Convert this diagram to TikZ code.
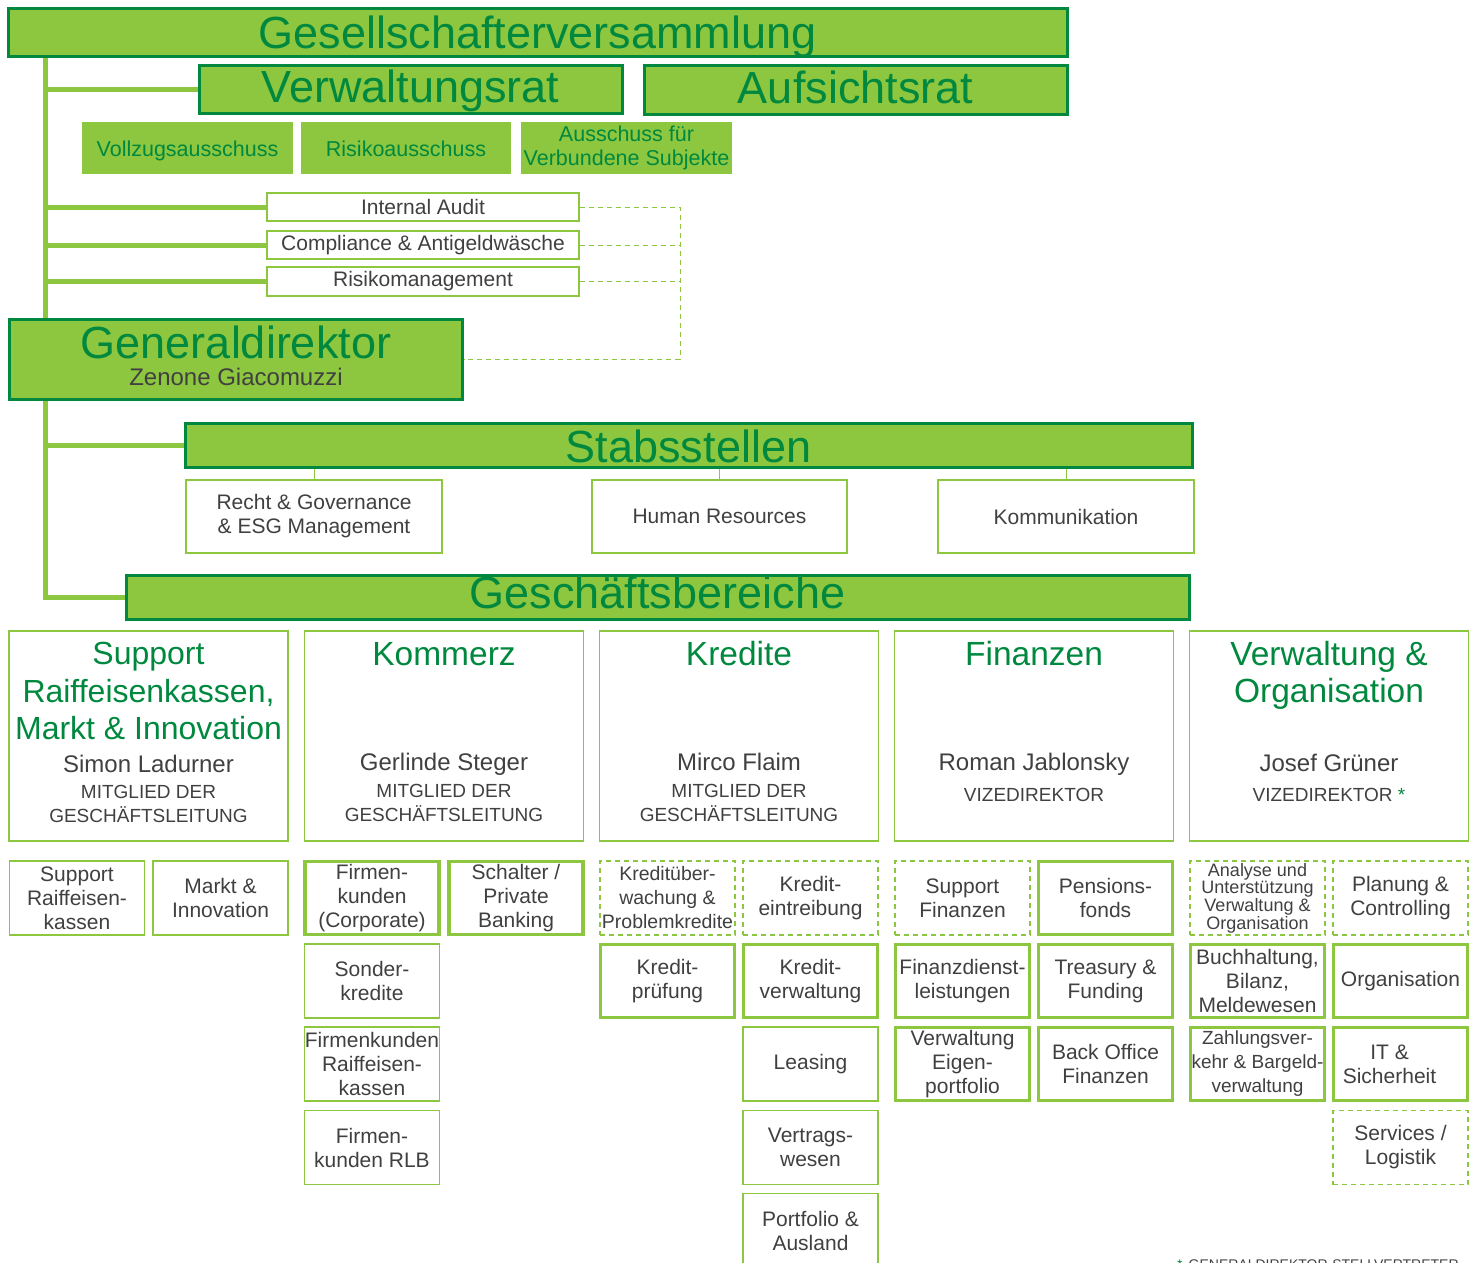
\documentclass[tikz,border=0pt]{standalone}
\usepackage{fontspec}
\setmainfont{Liberation Sans}
\definecolor{raigreen}{HTML}{8DC63F}
\definecolor{raidark}{HTML}{00893E}
\definecolor{raigray}{HTML}{404040}
\newcommand{\fsz}[2]{\fontsize{#1}{#2}\selectfont}
\tikzset{
	bar/.style={draw=raidark, line width=3pt, fill=raigreen, inner sep=0pt, text=raidark, font=\fsz{45}{54}, text depth=0pt},
	cmte/.style={fill=raigreen, inner sep=0pt, text=raidark, font=\fsz{21.5}{24}, align=center},
	unit/.style={draw=raigreen, line width=1.5pt, fill=white, inner sep=0pt, text=raigray, font=\fsz{21}{24}, align=center},
	unitthick/.style={unit, line width=3.5pt},
	unitdash/.style={unit, dash pattern=on 5pt off 4pt},
	trunk/.style={draw=raigreen, line width=5pt},
	dline/.style={draw=raigreen, line width=1pt, dash pattern=on 5pt off 4pt},
	tline/.style={draw=raigreen, line width=1pt},
	dept/.style={draw=raigreen, line width=1.5pt, inner sep=0pt, minimum width=279pt, minimum height=210pt},
	depttitle/.style={text=raidark, font=\fsz{33.5}{37.5}, align=center, inner sep=0pt},
	deptname/.style={text=raigray, font=\fsz{24}{28}, inner sep=0pt},
	deptrole/.style={text=raigray, font=\fsz{19}{24}, align=center, inner sep=0pt},
}
\begin{document}
\begin{tikzpicture}[x=1pt, y=-1pt]
		\useasboundingbox (0,0) rectangle (1475,1263);
		\coordinate (trunk) at (45,0);
		\coordinate (dk) at (680,0);

		\node[bar, minimum width=1059pt, minimum height=48pt, text height=31pt] (gv) at (537.5,33) {Gesellschafterversammlung};
		\node[bar, minimum width=423pt, minimum height=47pt, text height=26pt] (vr) at (410.5,89.5) {Verwaltungsrat};
		\node[bar, minimum width=423pt, minimum height=48pt, text height=27pt] (ar) at (855.5,90) {Aufsichtsrat};

		\node[cmte, minimum width=211pt, minimum height=52pt, text height=17pt, text depth=0pt] (vz) at (187.5,148) {Vollzugsausschuss};
		\node[cmte, minimum width=210pt, minimum height=52pt, text height=17pt, text depth=0pt] (ra) at (406,148) {Risikoausschuss};
		\node[cmte, minimum width=211pt, minimum height=52pt] (avs) at (626.5,148) {Ausschuss für\\Verbundene Subjekte};

		\node[unit, minimum width=312pt, minimum height=28pt] (ia) at (423,207) {Internal Audit};
		\node[unit, minimum width=312pt, minimum height=28pt] (cm) at (423,245) {Compliance \& Antigeldwäsche};
		\node[unit, minimum width=312pt, minimum height=29pt] (rm) at (423,281.5) {Risikomanagement};

		\node[bar, minimum width=453pt, minimum height=80pt] (gd) at (235.5,359) {};
		\node[text=raidark, font=\fsz{45}{54}, inner sep=0pt, anchor=base] (gdT) at (236,358) {Generaldirektor};
		\node[text=raigray, font=\fsz{24}{28}, inner sep=0pt, anchor=base] (gdN) at (236,385) {Zenone Giacomuzzi};

		\node[bar, minimum width=1007pt, minimum height=44pt, text height=34pt] (st) at (688.5,445) {Stabsstellen};
		\node[unit, minimum width=256pt, minimum height=73pt] (rg) at (314,516.5) {Recht \& Governance\\\& ESG Management};
		\node[unit, minimum width=255pt, minimum height=73pt] (hr) at (719.5,516.5) {Human Resources};
		\node[unit, minimum width=256pt, minimum height=73pt] (ko) at (1066,516.5) {Kommunikation};

		\node[bar, minimum width=1063pt, minimum height=44pt, text height=23pt] (gb) at (657.5,597) {Geschäftsbereiche};

		\draw[trunk] (gv.south -| trunk) -- (gd.north -| trunk);
		\draw[trunk] (gd.south -| trunk) |- (gb.west);
		\draw[trunk] (vr.west -| trunk) -- (vr.west);
		\draw[trunk] (ia.west -| trunk) -- (ia.west);
		\draw[trunk] (cm.west -| trunk) -- (cm.west);
		\draw[trunk] (rm.west -| trunk) -- (rm.west);
		\draw[trunk] (st.west -| trunk) -- (st.west);

		\draw[dline] (ia.east) -- (ia.east -| dk) |- (gd.east);
		\draw[dline] (cm.east) -- (cm.east -| dk);
		\draw[dline] (rm.east) -- (rm.east -| dk);

		\draw[tline] (st.south -| rg.north) -- (rg.north);
		\draw[tline] (st.south -| hr.north) -- (hr.north);
		\draw[tline] (st.south -| ko.north) -- (ko.north);

		\node[dept] (sup) at (148.5,736) {};
		\node[dept] (kom) at (444,736) {};
		\node[dept] (kre) at (739,736) {};
		\node[dept] (fin) at (1034,736) {};
		\node[dept] (vo) at (1329,736) {};

		\node[depttitle, anchor=north, font=\fsz{32}{37.5}] (supT) at (148.5,642) {Support\\Raiffeisenkassen,\\Markt \& Innovation};
		\node[depttitle, anchor=base] (komT) at (444,665) {Kommerz};
		\node[depttitle, anchor=base] (kreT) at (739,665) {Kredite};
		\node[depttitle, anchor=base] (finT) at (1034,665) {Finanzen};
		\node[depttitle, anchor=north] (voT) at (1329,641) {Verwaltung \&\\Organisation};

		\node[deptname, anchor=base] (supN) at (148.5,772) {Simon Ladurner};
		\node[deptname, anchor=base] (komN) at (444,770) {Gerlinde Steger};
		\node[deptname, anchor=base] (kreN) at (739,770) {Mirco Flaim};
		\node[deptname, anchor=base] (finN) at (1034,770) {Roman Jablonsky};
		\node[deptname, anchor=base] (voN) at (1329,771) {Josef Grüner};

		\node[deptrole, anchor=north] (supR) at (148.5,785.5) {MITGLIED DER\\GESCHÄFTSLEITUNG};
		\node[deptrole, anchor=north] (komR) at (444,784.5) {MITGLIED DER\\GESCHÄFTSLEITUNG};
		\node[deptrole, anchor=north] (kreR) at (739,784.5) {MITGLIED DER\\GESCHÄFTSLEITUNG};
		\node[deptrole, anchor=base] (finR) at (1034,801) {VIZEDIREKTOR};
		\node[deptrole, anchor=base] (voR) at (1329,801) {VIZEDIREKTOR \textcolor{raidark}{*}};

		\node[unit, minimum width=135pt, minimum height=74pt] (srk) at (77,898) {Support\\Raiffeisen-\\kassen};
		\node[unit, minimum width=135pt, minimum height=74pt] (mi) at (220.5,898) {Markt \&\\Innovation};

		\node[unitthick, minimum width=134pt, minimum height=73pt] (fkc) at (372,898) {Firmen-\\kunden\\(Corporate)};
		\node[unitthick, minimum width=134pt, minimum height=73pt] (spb) at (516,898) {Schalter /\\Private\\Banking};
		\node[unit, minimum width=135pt, minimum height=74pt] (sk) at (372,981) {Sonder-\\kredite};
		\node[unit, minimum width=135pt, minimum height=74pt] (fkr) at (372,1064) {Firmenkunden\\Raiffeisen-\\kassen};
		\node[unit, minimum width=135pt, minimum height=74pt] (fkl) at (372,1147.5) {Firmen-\\kunden RLB};

		\node[unitdash, minimum width=135pt, minimum height=74pt, font=\fsz{19.5}{24}] (kup) at (667.5,898) {Kreditüber-\\wachung \&\\Problemkredite};
		\node[unitdash, minimum width=135pt, minimum height=74pt] (kei) at (810.5,898) {Kredit-\\eintreibung};
		\node[unitthick, minimum width=134pt, minimum height=73pt] (kpr) at (667.5,981) {Kredit-\\prüfung};
		\node[unitthick, minimum width=134pt, minimum height=73pt] (kvw) at (810.5,981) {Kredit-\\verwaltung};
		\node[unit, minimum width=135pt, minimum height=74pt] (lea) at (810.5,1064) {Leasing};
		\node[unit, minimum width=135pt, minimum height=74pt] (vtw) at (810.5,1147.5) {Vertrags-\\wesen};
		\node[unit, minimum width=135pt, minimum height=74pt] (pfa) at (810.5,1230.5) {Portfolio \&\\Ausland};

		\node[unitdash, minimum width=135pt, minimum height=74pt] (sfi) at (962.5,898) {Support\\Finanzen};
		\node[unitthick, minimum width=134pt, minimum height=73pt] (pfo) at (1105.5,898) {Pensions-\\fonds};
		\node[unitthick, minimum width=134pt, minimum height=73pt] (fdl) at (962.5,981) {Finanzdienst-\\leistungen};
		\node[unitthick, minimum width=134pt, minimum height=73pt] (tf) at (1105.5,981) {Treasury \&\\Funding};
		\node[unitthick, minimum width=134pt, minimum height=73pt] (vep) at (962.5,1064) {Verwaltung\\Eigen-\\portfolio};
		\node[unitthick, minimum width=134pt, minimum height=73pt] (bof) at (1105.5,1064) {Back Office\\Finanzen};

		\node[unitdash, minimum width=135pt, minimum height=74pt, font=\fsz{18}{16}] (auv) at (1257.5,898) {Analyse und\\Unterstützung\\Verwaltung \&\\Organisation};
		\node[unitdash, minimum width=135pt, minimum height=74pt] (pc) at (1400.5,898) {Planung \&\\Controlling};
		\node[unitthick, minimum width=134pt, minimum height=73pt] (bbm) at (1257.5,981) {Buchhaltung,\\Bilanz,\\Meldewesen};
		\node[unitthick, minimum width=134pt, minimum height=73pt] (org) at (1400.5,981) {Organisation};
		\node[unitthick, minimum width=134pt, minimum height=73pt, font=\fsz{19}{24}] (zbv) at (1257.5,1064) {Zahlungsver-\\kehr \& Bargeld-\\verwaltung};
		\node[unitthick, minimum width=134pt, minimum height=73pt] (its) at (1400.5,1064) {IT \&\hspace*{22pt}\\Sicherheit\hspace*{22pt}};
		\node[unitdash, minimum width=135pt, minimum height=74pt] (slo) at (1400.5,1147.5) {Services /\\Logistik};

		\node[anchor=base west, inner sep=0pt, text=raigray, font=\fsz{14}{16}] (fn) at (1177,1269) {\textcolor{raidark}{*}\hspace{6pt}GENERALDIREKTOR-STELLVERTRETER};
\end{tikzpicture}
\end{document}
